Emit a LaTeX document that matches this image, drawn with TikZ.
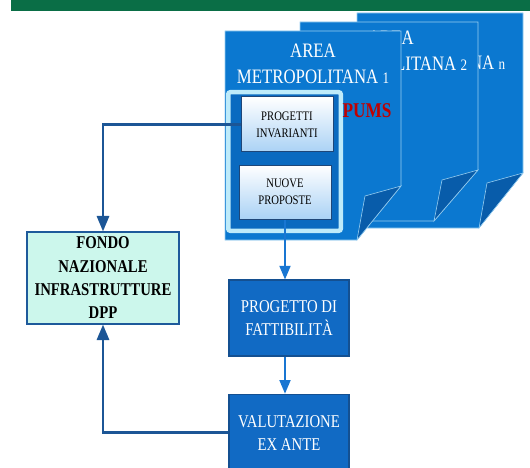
\documentclass[tikz,border=0pt]{standalone}
\usepackage{fontspec}
\setmainfont[FakeStretch=0.82]{Liberation Serif}
\usepackage{tikz}
\usepackage{xcolor}
\usetikzlibrary{shapes.geometric, arrows, positioning}

\definecolor{topgreen}{RGB}{10,110,70}
\definecolor{pageblue}{RGB}{11,120,208}
\definecolor{flapblue}{RGB}{8,92,170}
\definecolor{pageedge}{RGB}{150,205,240}
\definecolor{framecyan}{RGB}{190,235,250}
\definecolor{frameblue}{RGB}{10,106,192}
\definecolor{smalledge}{RGB}{30,70,120}
\definecolor{smallfill}{RGB}{170,210,245}
\definecolor{boxblue}{RGB}{17,106,196}
\definecolor{boxedge}{RGB}{20,80,145}
\definecolor{fondofill}{RGB}{204,247,236}
\definecolor{fondoedge}{RGB}{30,90,155}
\definecolor{darkarrow}{RGB}{28,86,150}
\definecolor{bluearrow}{RGB}{25,118,210}
\definecolor{pumsred}{RGB}{192,0,0}

\tikzset{
  page/.style={fill=pageblue, draw=pageedge, line width=0.6pt},
  flap/.style={fill=flapblue, draw=pageedge, line width=0.6pt},
  pagetitle/.style={text=white, align=center, inner sep=0pt, font=\fontsize{20.5}{26}\selectfont},
  frame/.style={fill=frameblue, draw=framecyan, line width=4.5pt, rounded corners=2pt},
  smallbox/.style={draw=smalledge, line width=1pt, top color=white, bottom color=smallfill,
    minimum width=92pt, minimum height=55pt, inner sep=0pt, align=center,
    font=\fontsize{13}{17}\selectfont},
  bluebox/.style={fill=boxblue, draw=boxedge, line width=1.2pt, text=white,
    minimum width=120pt, minimum height=76pt, inner sep=0pt, align=center,
    font=\fontsize{18}{23}\selectfont},
  fondobox/.style={fill=fondofill, draw=fondoedge, line width=1.6pt,
    minimum width=152pt, minimum height=92pt, inner sep=0pt, align=center,
    font=\bfseries\fontsize{18}{23.3}\selectfont},
  darkline/.style={draw=darkarrow, line width=2.6pt, -triangle 45},
  blueline/.style={draw=bluearrow, line width=2.2pt, -triangle 45}
}

\begin{document}
\begin{tikzpicture}[x=1pt, y=-1pt, node distance=37pt]
\useasboundingbox (0,0) rectangle (530,468);
\fill[topgreen] (11,0) rectangle (530,10.8);

\foreach \xa/\ya/\xb/\yb/\yc/\tx/\ty/\num in
  {357/13/523/173/228/429/50/n, 300/22/478/170/221/391/50.5/2, 225/31/401/186/240/313/64/1} {
  \draw[page] (\xa,\ya) -- (\xb,\ya) -- (\xb,\yb) -- ({\xb-44},\yc) -- (\xa,\yc) -- cycle;
  \draw[flap] (\xb,\yb) -- ({\xb-36},{\yb+10}) -- ({\xb-44},\yc) -- cycle;
  \node[pagetitle] (area\num) at (\tx,\ty) {AREA\\METROPOLITANA {\fontsize{16}{16}\selectfont\num}};
}

\draw[frame] (228.25,92.25) rectangle (340.75,230.75);
\node[text=pumsred, font=\bfseries\fontsize{21}{21}\selectfont] (pums) at (367,111) {PUMS};
\node[smallbox] (invarianti) at (287,124.5) {PROGETTI\\INVARIANTI};
\node[smallbox, minimum height=54pt] (proposte) at (285,192) {NUOVE\\PROPOSTE};

\node[fondobox] (fondo) at (103,278) {FONDO\\NAZIONALE\\INFRASTRUTTURE\\DPP};
\node[bluebox] (fattibilita) at (289,318) {PROGETTO DI\\FATTIBILITÀ};
\node[bluebox, minimum height=77pt, below=of fattibilita] (exante) {VALUTAZIONE\\EX ANTE};

\draw[darkline] (invarianti.west) -| (fondo.north);
\draw[darkline] (exante.west) -| (fondo.south);
\draw[blueline] (proposte.south) -- (proposte.south |- fattibilita.north);
\draw[blueline] (fattibilita.south -| proposte.south) -- (proposte.south |- exante.north);
\end{tikzpicture}
\end{document}
